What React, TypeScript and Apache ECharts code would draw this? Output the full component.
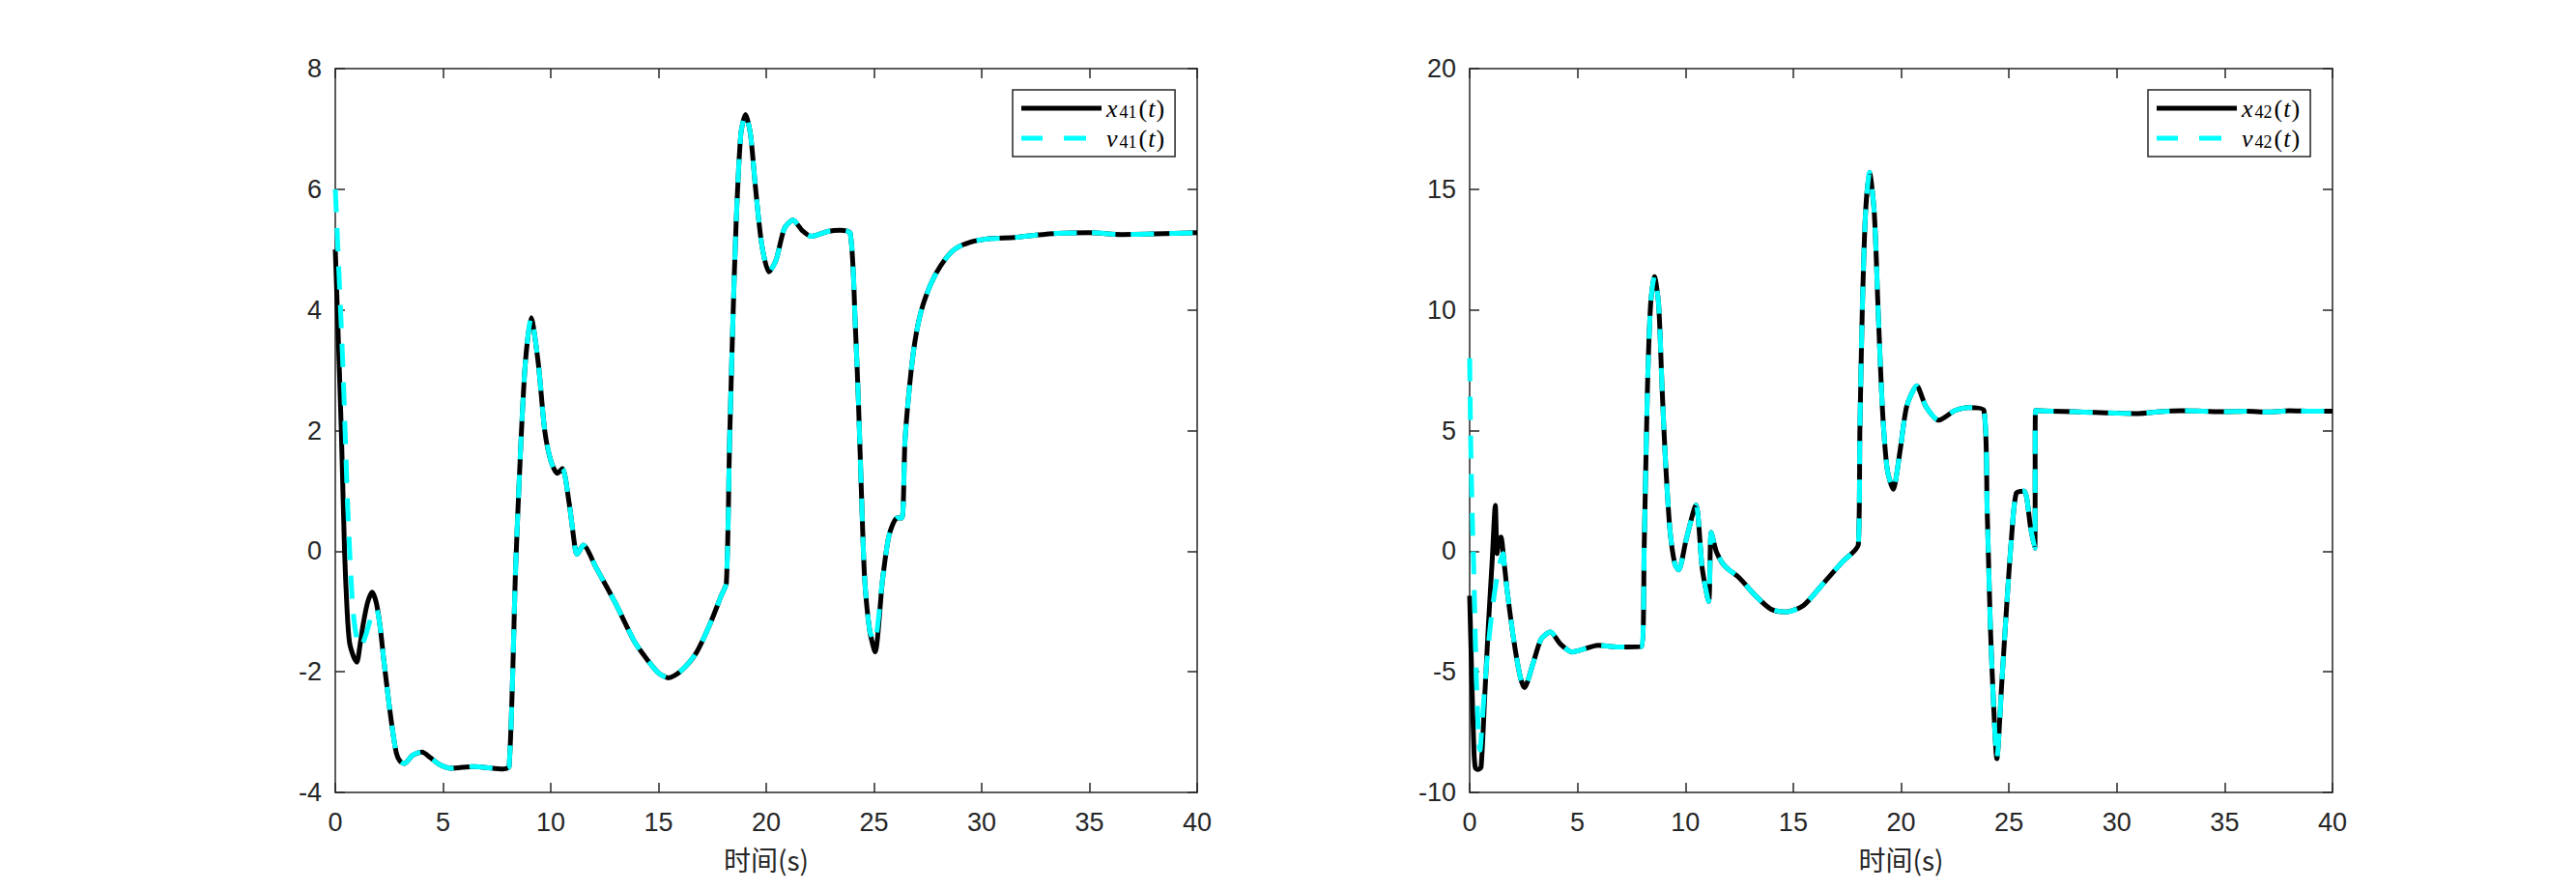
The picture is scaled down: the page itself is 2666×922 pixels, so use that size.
import React, { useEffect, useRef } from 'react';
import * as echarts from 'echarts';

// ---- data (time s, value) ----
const x41: [number, number][] = [
  [0, 5.0], [0.13, 3.64], [0.28, 2.0], [0.43, 0.0], [0.55, -1.0], [0.66, -1.51], [0.85, -1.75], [1.0, -1.84],
  [1.15, -1.55], [1.3, -1.2], [1.5, -0.85], [1.71, -0.68], [1.9, -0.85], [2.08, -1.25], [2.25, -1.8], [2.46, -2.43],
  [2.65, -2.95], [2.83, -3.34], [3.0, -3.48], [3.2, -3.52], [3.6, -3.38], [4.03, -3.33], [4.4, -3.42], [4.85, -3.54],
  [5.37, -3.6], [6.42, -3.57], [7.77, -3.61], [8.07, -3.57], [8.37, -0.27], [8.6, 1.68], [8.82, 3.12], [9.09, 3.87],
  [9.42, 3.12], [9.72, 2.0], [10.01, 1.49], [10.31, 1.29], [10.54, 1.37], [10.84, 0.83], [11.14, 0.02], [11.22, -0.05],
  [11.51, 0.1], [12.1, -0.27], [13.0, -0.86], [13.9, -1.51], [14.48, -1.8], [15.0, -2.02], [15.46, -2.1], [16.0, -2.0],
  [16.73, -1.7], [17.4, -1.2], [17.92, -0.73], [18.15, -0.53], [18.3, 1.83], [18.45, 3.78], [18.6, 5.41], [18.82, 6.91],
  [19.04, 7.24], [19.27, 6.91], [19.49, 6.07], [19.79, 5.09], [20.13, 4.63], [20.46, 4.83], [20.84, 5.35], [21.24, 5.49],
  [21.66, 5.32], [22.1, 5.22], [22.86, 5.3], [23.45, 5.32], [23.9, 5.27], [24.13, 3.78], [24.28, 2.47], [24.43, 0.84],
  [24.57, -0.47], [24.8, -1.31], [25.05, -1.67], [25.4, -0.47], [25.7, 0.26], [26.07, 0.55], [26.3, 0.55], [26.44, 1.83],
  [26.67, 2.8], [26.89, 3.45], [27.19, 3.98], [27.64, 4.43], [28.09, 4.73], [28.69, 4.99], [29.43, 5.12], [30.33, 5.18],
  [31.52, 5.2], [32.5, 5.24], [33.5, 5.27], [35, 5.28], [36.5, 5.25], [38, 5.26], [40, 5.28],
];
const v41Start: [number, number][] = [
  [0, 6.0], [0.13, 4.94], [0.36, 3.0], [0.58, 0.7], [0.81, -0.93], [1.0, -1.45], [1.18, -1.58], [1.45, -1.35],
  [1.7, -1.05], [1.9, -0.95],
];
const v41Dip: [number, number][] = [[25.02, -1.5]];

const x42: [number, number][] = [
  [0, -1.85], [0.1, -5.3], [0.2, -8.3], [0.27, -9.0], [0.4, -9.05], [0.53, -8.95], [0.7, -6.0], [0.87, -3.05],
  [1.05, -0.3], [1.19, 1.9], [1.27, -0.1], [1.36, 0.45], [1.45, 0.58], [1.6, -0.5], [1.75, -1.72], [2.05, -3.72],
  [2.34, -5.19], [2.54, -5.65], [2.94, -4.65], [3.31, -3.65], [3.74, -3.35], [4.21, -3.85], [4.75, -4.18], [5.33, -4.05],
  [5.94, -3.9], [6.82, -3.97], [7.97, -3.95], [8.09, 0.12], [8.24, 6.65], [8.39, 10.24], [8.57, 11.38], [8.76, 10.24],
  [8.91, 7.0], [9.06, 4.04], [9.28, 0.94], [9.51, -0.53], [9.69, -0.78], [10.03, 0.45], [10.49, 1.91], [10.78, -0.7],
  [11.08, -2.08], [11.2, 0.77], [11.45, -0.05], [11.82, -0.61], [12.49, -1.1], [13.24, -1.84], [13.98, -2.41], [14.66, -2.52],
  [15.48, -2.25], [16.38, -1.35], [17.27, -0.45], [18.02, 0.28], [18.09, 5.01], [18.2, 9.91], [18.35, 13.99], [18.54, 15.7],
  [18.76, 13.99], [18.94, 9.91], [19.14, 5.83], [19.36, 3.38], [19.63, 2.57], [19.96, 4.2], [20.26, 6.0], [20.73, 6.85],
  [21.15, 6.0], [21.75, 5.43], [22.5, 5.83], [23.09, 5.95], [23.84, 5.83], [23.99, 1.76], [24.14, -3.14], [24.29, -6.4],
  [24.44, -8.6], [24.66, -5.59], [24.89, -2.33], [25.11, 0.45], [25.34, 2.41], [25.71, 2.49], [26.01, 0.94], [26.2, 0.12],
  [26.23, 5.83], [27, 5.8], [28, 5.78], [29, 5.75], [30, 5.72], [31, 5.7], [32, 5.78], [33, 5.82], [34, 5.8],
  [35, 5.78], [36, 5.8], [37, 5.77], [38, 5.82], [39, 5.8], [40, 5.8],
];
const v42Start: [number, number][] = [
  [0, 8.0], [0.05, 4.5], [0.12, 1.5], [0.19, -0.7], [0.3, -5.0], [0.42, -7.8], [0.48, -8.25], [0.55, -7.5],
  [0.7, -5.6], [0.87, -3.85], [1.05, -2.4], [1.2, -1.45], [1.4, -0.5], [1.55, -0.1], [1.62, -0.7],
];

const v41: [number, number][] = [
  ...v41Start,
  ...x41.filter((p) => p[0] >= 2.08 && p[0] <= 24.8),
  ...v41Dip,
  ...x41.filter((p) => p[0] >= 25.4),
];
const v42: [number, number][] = [...v42Start, ...x42.filter((p) => p[0] >= 1.75)];

const xLabel = '时间(s)';
const leftY = { min: -4, max: 8, interval: 2 };
const rightY = { min: -10, max: 20, interval: 5 };

const AX = '#262626';
const axisLine = { show: true, onZero: false, lineStyle: { color: AX, width: 1.5 } };
const tick = { show: true, inside: true, length: 10, lineStyle: { color: AX, width: 1.5 } };
const labelFont = 'Liberation Sans, Arial, sans-serif';

function xAxes(gi: number) {
  return [
    {
      type: 'value', gridIndex: gi, position: 'bottom', min: 0, max: 40, interval: 5,
      axisLine, axisTick: tick, splitLine: { show: false },
      axisLabel: { fontSize: 27, color: AX, margin: 17, fontFamily: labelFont },
      name: xLabel, nameLocation: 'middle', nameGap: 55,
      nameTextStyle: { fontSize: 28, color: AX, fontFamily: 'Noto Sans CJK SC, sans-serif' },
    },
    {
      type: 'value', gridIndex: gi, position: 'top', min: 0, max: 40, interval: 5,
      axisLine, axisTick: tick, splitLine: { show: false }, axisLabel: { show: false },
    },
  ];
}
function yAxes(gi: number, r: { min: number; max: number; interval: number }) {
  return [
    {
      type: 'value', gridIndex: gi, position: 'left', ...r,
      axisLine, axisTick: tick, splitLine: { show: false },
      axisLabel: { fontSize: 27, color: AX, margin: 14, fontFamily: labelFont },
    },
    {
      type: 'value', gridIndex: gi, position: 'right', ...r,
      axisLine, axisTick: tick, splitLine: { show: false }, axisLabel: { show: false },
    },
  ];
}

const serif = 'Liberation Serif, Times New Roman, serif';
const rich = {
  i: { fontFamily: serif, fontStyle: 'italic', fontSize: 26, color: '#000', lineHeight: 26 },
  n: { fontFamily: serif, fontSize: 26, color: '#000', lineHeight: 26, padding: [0, 1, 0, 1] },
  s: { fontFamily: serif, fontSize: 18, color: '#000', lineHeight: 14, verticalAlign: 'bottom', padding: [0, 1, 0, 2] },
};
const fmt = (name: string) => `{i|${name[0]}}{s|${name.slice(1)}}{n|(}{i|t}{n|)}`;

const solidIcon = 'path://M0,0H83V5H0Z';
const dashIcon = 'path://M0,0H22V5H0ZM44,0H67V5H44ZM83,0L83,5';

function legend(names: string[], left: number) {
  return {
    show: true,
    data: [
      { name: names[0], icon: solidIcon },
      { name: names[1], icon: dashIcon },
    ],
    orient: 'vertical', left, top: 93,
    itemWidth: 83, itemHeight: 5, itemGap: 5, padding: [6, 10, 6, 9],
    borderColor: AX, borderWidth: 1.5, backgroundColor: '#fff',
    itemStyle: { borderWidth: 0 },
    selectedMode: false, formatter: fmt, textStyle: { rich },
  };
}

function pair(xName: string, vName: string, xd: [number, number][], vd: [number, number][], gi: number) {
  return [
    {
      name: xName, type: 'line', xAxisIndex: gi * 2, yAxisIndex: gi * 2, data: xd,
      symbol: 'none', showSymbol: false, smooth: 0.25, z: 2,
      lineStyle: { color: '#000000', width: 5, join: 'round' }, itemStyle: { color: '#000000' },
    },
    {
      name: vName, type: 'line', xAxisIndex: gi * 2, yAxisIndex: gi * 2, data: vd,
      symbol: 'none', showSymbol: false, smooth: 0.25, z: 3,
      lineStyle: { color: '#00ffff', width: 5, type: [24, 16] }, itemStyle: { color: '#00ffff' },
    },
  ];
}

export default function App() {
  const ref = useRef<HTMLDivElement>(null);
  useEffect(() => {
    const chart = echarts.init(ref.current!, null, { renderer: 'svg' });
    chart.setOption({
      animation: false,
      backgroundColor: '#ffffff',
      grid: [
        { left: 347, top: 71, width: 892, height: 749, containLabel: false },
        { left: 1521, top: 71, width: 893, height: 749, containLabel: false },
      ],
      xAxis: [...xAxes(0), ...xAxes(1)],
      yAxis: [...yAxes(0, leftY), ...yAxes(1, rightY)],
      legend: [legend(['x41', 'v41'], 1048), legend(['x42', 'v42'], 2223)],
      series: [...pair('x41', 'v41', x41, v41, 0), ...pair('x42', 'v42', x42, v42, 1)],
    });
    return () => chart.dispose();
  }, []);
  return (
    <div
      ref={ref}
      style={{ position: 'fixed', left: 0, top: 0, width: 2666, height: 922, background: '#fff' }}
    />
  );
}
